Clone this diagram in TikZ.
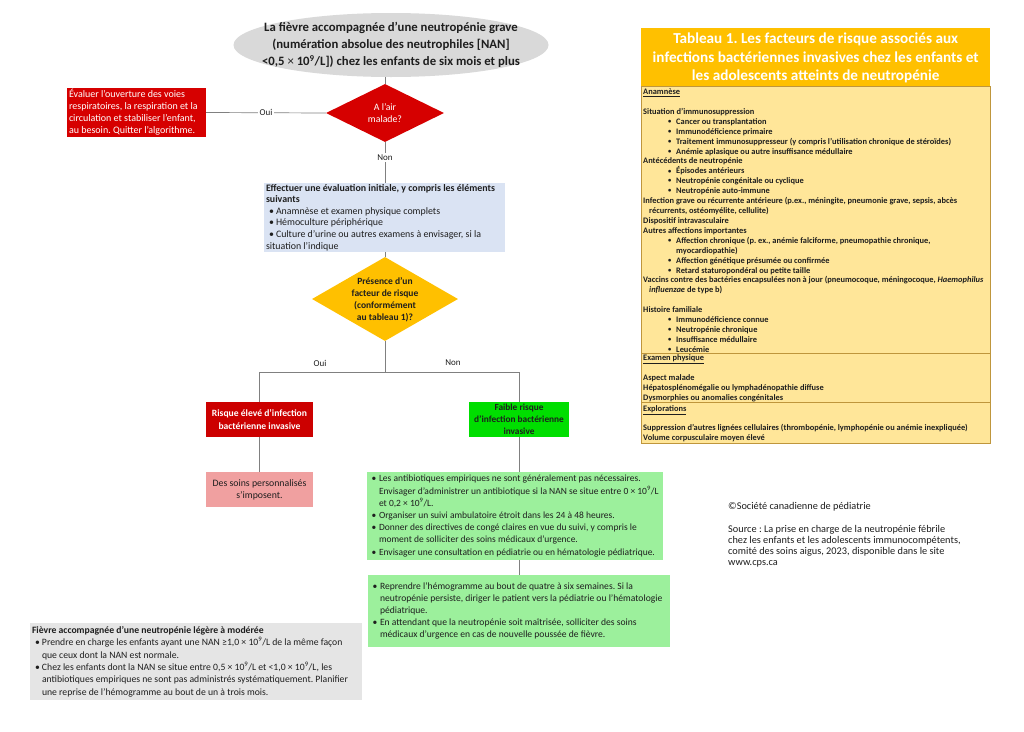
\documentclass[tikz,border=0pt]{standalone}
\usepackage{fontspec}
\setmainfont{Carlito}
\usetikzlibrary{shapes.geometric}
\definecolor{ellgray}{RGB}{217,217,217}
\definecolor{redA}{RGB}{214,0,0}
\definecolor{redB}{RGB}{204,0,0}
\definecolor{bluebox}{RGB}{218,227,243}
\definecolor{yellowd}{RGB}{255,192,0}
\definecolor{greenA}{RGB}{0,222,0}
\definecolor{greenB}{RGB}{156,240,156}
\definecolor{pinkbox}{RGB}{240,160,160}
\definecolor{graybox}{RGB}{229,229,229}
\definecolor{thead}{RGB}{255,192,0}
\definecolor{tbodyc}{RGB}{255,230,153}
\definecolor{tline}{RGB}{191,150,60}
\definecolor{conngray}{RGB}{128,128,128}
\definecolor{txt}{RGB}{30,30,30}
\newcommand\bul{\makebox[7.5pt][l]{•}}
\newcommand\ind{\hspace*{7.5pt}}
\newcommand\bulb{\hspace*{3pt}\makebox[7pt][l]{•}}
\newcommand\indb{\hspace*{10pt}}
\newcommand\tb{\hspace*{25pt}\makebox[8pt][l]{\raisebox{0.8pt}{\fontsize{6.5}{6.5}\selectfont•}}}
\newcommand\nine{\textsuperscript{9}}
\frenchspacing
\begin{document}
\begin{tikzpicture}[x=1pt,y=-1pt,
  bx/.style={rectangle, inner sep=0pt, draw=none},
  txtn/.style={inner sep=0pt, align=left, text=txt, font=\fontsize{9}{12.2}\selectfont},
  ctr/.style={inner sep=0pt, align=center, font=\bfseries\fontsize{9}{12}\selectfont},
  conn/.style={draw=conngray, line width=0.7pt},
  lbl/.style={inner sep=1.5pt, fill=white, text=txt, font=\fontsize{9}{11}\selectfont},
  tabt/.style={inner sep=0pt, align=left, anchor=north west, text=txt, font=\bfseries\fontsize{8.4}{9.92}\selectfont},
]
\useasboundingbox[fill=white] (0,0) rectangle (1024,731);

% title ellipse
\node[ellipse, fill=ellgray, inner sep=0pt, minimum width=315, minimum height=64] (ell) at (391,45) {};
\node[inner sep=0pt, align=center, text=txt, font=\bfseries\fontsize{12.75}{17}\selectfont] (ellt) at (ell.center)
  {La fièvre accompagnée d’une neutropénie grave\\(numération absolue des neutrophiles [NAN]\\<0,5 {\mdseries×} 10\nine/L]) chez les enfants de six mois et plus};

% red diamond
\node[diamond, fill=redA, inner sep=0pt, minimum width=118, minimum height=58] (d1) at (385,113) {};
\node[inner sep=0pt, align=center, text=white, font=\fontsize{9.8}{12}\selectfont] (d1t) at (d1.center) {A l’air\\malade?};

% red box left
\node[bx, fill=redA, minimum width=139, minimum height=49] (r1) at (136.5,112.5) {};
\node[txtn, text=white, anchor=west, font=\fontsize{10}{12.1}\selectfont] (r1t) at ([xshift=2pt]r1.west)
  {Évaluer l’ouverture des voies\\respiratoires, la respiration et la\\circulation et stabiliser l’enfant,\\au besoin. Quitter l’algorithme.};

% blue box
\node[bx, fill=bluebox, minimum width=241, minimum height=69] (blue) at (384.5,217.5) {};
\node[txtn, anchor=west, font=\fontsize{9.9}{11.6}\selectfont] (bluet) at ([xshift=2pt]blue.west)
  {\textbf{Effectuer une évaluation initiale, y compris les éléments}\\
   \textbf{suivants}\\
   \bulb Anamnèse et examen physique complets\\
   \bulb Hémoculture périphérique\\
   \bulb Culture d’urine ou autres examens à envisager, si la\\
   situation l’indique};

% yellow diamond
\node[diamond, fill=yellowd, inner sep=0pt, minimum width=146, minimum height=84] (d2) at (385,299) {};
\node[ctr, text=txt, font=\bfseries\fontsize{9.5}{12}\selectfont] (d2t) at ([yshift=-1pt]d2.center)
  {Présence d’un\\facteur de risque\\(conformément\\au tableau 1)?};

% risk boxes
\node[bx, fill=redB, minimum width=107, minimum height=35] (r2) at (259.5,419.5) {};
\node[ctr, text=white, font=\bfseries\fontsize{9.6}{12.5}\selectfont] (r2t) at (r2.center) {Risque élevé d’infection\\bactérienne invasive};
\node[bx, fill=greenA, minimum width=100, minimum height=35] (g2) at (519,419.5) {};
\node[ctr, text=txt, font=\bfseries\fontsize{9.3}{11.8}\selectfont] (g2t) at (g2.center) {Faible risque\\d’infection bactérienne\\invasive};

% pink box
\node[bx, fill=pinkbox, minimum width=107, minimum height=35] (pk) at (259.5,489.5) {};
\node[inner sep=0pt, align=center, text=txt, font=\fontsize{9.8}{12}\selectfont] (pkt) at (pk.center) {Des soins personnalisés\\s’imposent.};

% green boxes
\node[bx, fill=greenB, minimum width=296, minimum height=88] (gb1) at (515,516) {};
\node[txtn, anchor=west, font=\fontsize{9.5}{12.2}\selectfont] (gb1t) at ([xshift=4.5pt]gb1.west)
  {\bul Les antibiotiques empiriques ne sont généralement pas nécessaires.\\
   \ind Envisager d’administrer un antibiotique si la NAN se situe entre 0 × 10\nine/L\\
   \ind et 0,2 × 10\nine/L.\\
   \bul Organiser un suivi ambulatoire étroit dans les 24 à 48 heures.\\
   \bul Donner des directives de congé claires en vue du suivi, y compris le\\
   \ind moment de solliciter des soins médicaux d’urgence.\\
   \bul Envisager une consultation en pédiatrie ou en hématologie pédiatrique.};
\node[bx, fill=greenB, minimum width=302, minimum height=72] (gb2) at (519,611) {};
\node[txtn, anchor=west, font=\fontsize{9.6}{12.2}\selectfont] (gb2t) at ([xshift=4.5pt]gb2.west)
  {\bul Reprendre l’hémogramme au bout de quatre à six semaines. Si la\\
   \ind neutropénie persiste, diriger le patient vers la pédiatrie ou l’hématologie\\
   \ind pédiatrique.\\
   \bul En attendant que la neutropénie soit maîtrisée, solliciter des soins\\
   \ind médicaux d’urgence en cas de nouvelle poussée de fièvre.};

% gray box
\node[bx, fill=graybox, minimum width=332, minimum height=77] (gy) at (196,661.5) {};
\node[txtn, anchor=west, font=\fontsize{9.7}{12.4}\selectfont] (gyt) at ([xshift=2pt]gy.west)
  {\textbf{Fièvre accompagnée d’une neutropénie légère à modérée}\\
   \bulb Prendre en charge les enfants ayant une NAN ≥1,0 × 10\nine/L de la même façon\\
   \indb que ceux dont la NAN est normale.\\
   \bulb Chez les enfants dont la NAN se situe entre 0,5 × 10\nine/L et <1,0 × 10\nine/L, les\\
   \indb antibiotiques empiriques ne sont pas administrés systématiquement. Planifier\\
   \indb une reprise de l’hémogramme au bout de un à trois mois.};

% connectors
\draw[conn] (d1.north |- ell.south) -- (d1.north);
\draw[conn] (d1.west) -- node[lbl, pos=0.5] (oui1) {Oui} (r1.east);
\draw[conn] (d1.south) -- node[lbl, pos=0.37] (non1) {Non} (d1.south |- blue.north);
\draw[conn] (d2.north |- blue.south) -- (d2.north);
\coordinate (j) at (385,372);
\draw[conn] (d2.south) -- (j);
\draw[conn] (r2.north) -- (r2.north |- j) -- (g2.north |- j) -- (g2.north);
\node[lbl, fill=none] (oui2) at (320,363) {Oui};
\node[lbl, fill=none] (non2) at (453,363) {Non};
\draw[conn] (r2.south) -- (pk.north);
\draw[conn] (g2.south) -- (g2.south |- gb1.north);
\draw[conn] (g2.south |- gb1.south) -- (g2.south |- gb2.north);

% table
\node[bx, fill=thead, minimum width=349, minimum height=58, anchor=north west] (th) at (641,28) {};
\node[inner sep=0pt, align=center, text=white, font=\bfseries\fontsize{15.2}{18.5}\selectfont] (tht) at ([yshift=-1pt]th.center)
  {Tableau 1. Les facteurs de risque associés aux\\infections bactériennes invasives chez les enfants et\\les adolescents atteints de neutropénie};
\node[bx, fill=tbodyc, draw=tline, line width=0.5pt, minimum width=349, minimum height=357, anchor=north west] (tb) at (641,86) {};
\draw[draw=tline, line width=0.5pt] (tb.west |- 0,353) -- (tb.east |- 0,353);
\draw[draw=tline, line width=0.5pt] (tb.west |- 0,402.5) -- (tb.east |- 0,402.5);
\node[tabt] (ts1) at (643,88.5)
  {\underline{Anamnèse}\\
   \mbox{}\\
   Situation d’immunosuppression\\
   \tb Cancer ou transplantation\\
   \tb Immunodéficience primaire\\
   \tb Traitement immunosuppresseur (y compris l’utilisation chronique de stéroïdes)\\
   \tb Anémie aplasique ou autre insuffisance médullaire\\
   Antécédents de neutropénie\\
   \tb Épisodes antérieurs\\
   \tb Neutropénie congénitale ou cyclique\\
   \tb Neutropénie auto-immune\\
   Infection grave ou récurrente antérieure (p.ex., méningite, pneumonie grave, sepsis, abcès\\
   \hspace*{6pt}récurrents, ostéomyélite, cellulite)\\
   Dispositif intravasculaire\\
   Autres affections importantes\\
   \tb Affection chronique (p. ex., anémie falciforme, pneumopathie chronique,\\
   \hspace*{33pt}myocardiopathie)\\
   \tb Affection génétique présumée ou confirmée\\
   \tb Retard staturopondéral ou petite taille\\
   Vaccins contre des bactéries encapsulées non à jour (pneumocoque, méningocoque, \textit{Haemophilus}\\
   \hspace*{6pt}\textit{influenzae} de type b)\\
   \mbox{}\\
   Histoire familiale\\
   \tb Immunodéficience connue\\
   \tb Neutropénie chronique\\
   \tb Insuffisance médullaire\\
   \tb Leucémie};
\node[tabt] (ts2) at (643,354.5)
  {\underline{Examen physique}\\
   \mbox{}\\
   Aspect malade\\
   Hépatosplénomégalie ou lymphadénopathie diffuse\\
   Dysmorphies ou anomalies congénitales};
\node[tabt] (ts3) at (643,405)
  {\underline{Explorations}\\
   \mbox{}\\
   Suppression d’autres lignées cellulaires (thrombopénie, lymphopénie ou anémie inexpliquée)\\
   Volume corpusculaire moyen élevé};

% source text
\node[txtn, anchor=west, font=\fontsize{10.3}{11}\selectfont] (copy) at (728,506.5) {©Société canadienne de pédiatrie};
\node[txtn, anchor=north west, font=\fontsize{10.3}{11}\selectfont] (src) at (728,525.5)
  {Source : La prise en charge de la neutropénie fébrile\\chez les enfants et les adolescents immunocompétents,\\comité des soins aigus, 2023, disponible dans le site\\www.cps.ca};
\end{tikzpicture}
\end{document}
